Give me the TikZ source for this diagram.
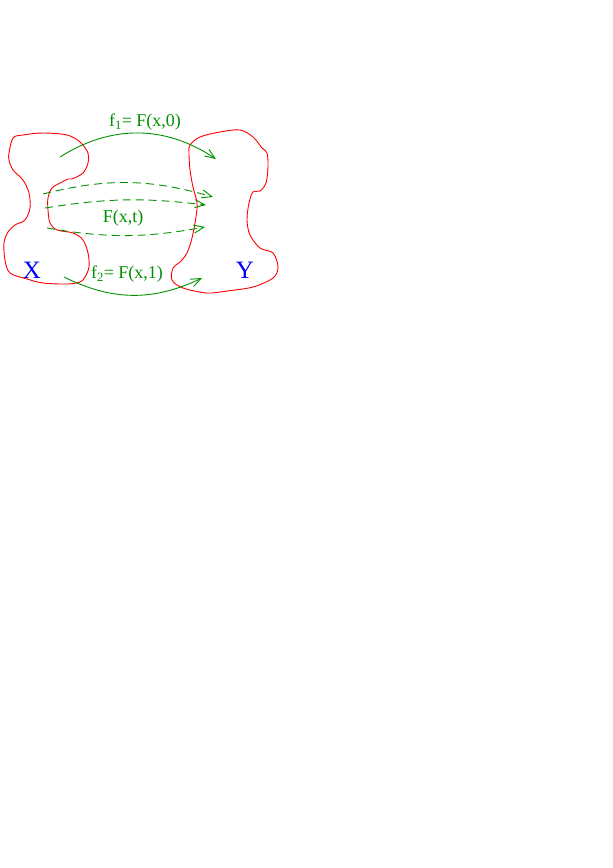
\documentclass[tikz,border=0pt]{standalone}
\usepackage{fontspec}
\setmainfont{Liberation Serif}
\usepackage{xcolor}
\usepackage{tikz}
\usetikzlibrary{arrows.meta}
\definecolor{figgreen}{RGB}{0,144,0}
\tikzset{
    red_blob/.style = {draw=red, line width=0.9pt, line join=round},
    green_arrow/.style = {draw=figgreen, line width=0.9pt, -{Straight Barb[length=10pt, width=8pt, line width=0.9pt]}},
    green_dash/.style = {green_arrow, dash pattern=on 8pt off 5pt},
    green_label/.style = {inner sep=0pt, text=figgreen, font=\fontsize{18}{20}\selectfont},
    blue_label/.style = {inner sep=0pt, text=blue, font=\fontsize{25}{28}\selectfont}
}

\begin{document}
\begin{tikzpicture}[x=1pt, y=-1pt]
            \useasboundingbox (0,0) rectangle (613,868);

            % space X
            \draw[red_blob] plot[smooth cycle, tension=0.55] coordinates {
                (9,153) (13,138) (23,135) (43,133) (67,135) (80,142) (88,153) (88,163)
                (83,173) (72,179) (68,179) (62,182) (52,188) (48,198) (48,210) (50,223)
                (57,230) (73,233) (83,240) (88,253) (89,267) (85,277) (80,282) (67,284)
                (43,283) (27,279) (10,273) (5,260) (4,243) (8,232) (15,225) (25,220)
                (30,208) (29,193) (23,180) (13,170) (9,160)};
            % space Y
            \draw[red_blob] plot[smooth cycle, tension=0.55] coordinates {
                (190,145) (200,137) (220,132) (240,130) (253,137) (262,148) (267,153)
                (268,167) (266,183) (260,191) (253,192) (249,203) (247,220) (250,235)
                (260,248) (273,253) (278,267) (273,278) (253,287) (227,291) (207,293)
                (183,288) (172,280) (173,268) (180,262) (187,253) (192,238) (196,217)
                (197,203) (193,187) (190,170) (189,153)};

            \node[blue_label] (X) at (32,270) {X};
            \node[blue_label] (Y) at (245,270) {Y};

            % end points of the maps
            \coordinate (f1_from) at (60,157);
            \coordinate (f1_to) at (216,159);
            \coordinate (t1_from) at (43,194);
            \coordinate (t1_to) at (213,197);
            \coordinate (t2_from) at (45,208);
            \coordinate (t2_to) at (206,205);
            \coordinate (t3_from) at (47,228);
            \coordinate (t3_to) at (205,227);
            \coordinate (f2_from) at (64,277);
            \coordinate (f2_to) at (202,278);

            \draw[green_arrow] (f1_from) to[bend left=33] (f1_to);
            \draw[green_dash] (t1_from) to[bend left=15] (t1_to);
            \draw[green_dash] (t2_from) to[bend left=8] (t2_to);
            \draw[green_dash] (t3_from) to[bend right=10] (t3_to);
            \draw[green_arrow] (f2_from) to[bend right=26] (f2_to);

            \node[green_label] (f1_label) at (145,122) {f\textsubscript{1}= F(x,0)};
            \node[green_label] (ft_label) at (123,218) {F(x,t)};
            \node[green_label] (f2_label) at (127,274) {f\textsubscript{2}= F(x,1)};
        \end{tikzpicture}
\end{document}
